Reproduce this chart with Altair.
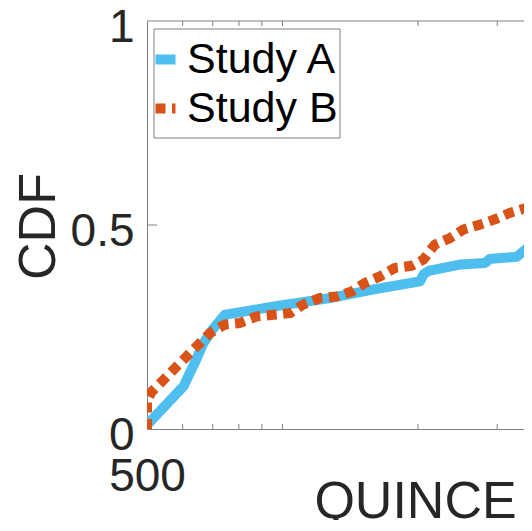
import altair as alt
import pandas as pd

# ---- data ----
series = ["Study A", "Study B"]
colors = ["#4DBEEE", "#D95319"]

a_x = [500, 603, 640, 667, 700, 745, 954, 1275, 1592, 2022, 2060, 2120, 2481, 2818, 2892, 3314, 3580, 3800]
a_y = [0.01, 0.105, 0.165, 0.21, 0.245, 0.28, 0.30, 0.321, 0.342, 0.362, 0.38, 0.388, 0.403, 0.407, 0.417, 0.422, 0.452, 0.48]

b_x = [500, 500, 512, 577, 649, 690, 745, 805, 877, 954, 1040, 1112, 1212, 1320, 1425, 1525, 1647, 1779,
       1937, 2056, 2181, 2357, 2523, 2748, 2966, 3205, 3488, 3800]
b_y = [0.0, 0.07, 0.091, 0.149, 0.206, 0.235, 0.256, 0.26, 0.276, 0.28, 0.284, 0.305, 0.321, 0.325, 0.337,
       0.358, 0.374, 0.395, 0.40, 0.415, 0.452, 0.468, 0.489, 0.501, 0.514, 0.530, 0.542, 0.555]

x_domain = [500, 3441]
x_label_values = [500]
x_minor_ticks = [600, 700, 800, 900, 1000, 2000, 3000]
y_label_values = [0, 0.5, 1]
y_inner_ticks = [0.5]

rows = []
for i, (x, y) in enumerate(zip(a_x, a_y)):
    rows.append({"series": "Study A", "x": x, "y": y, "order": i})
for i, (x, y) in enumerate(zip(b_x, b_y)):
    rows.append({"series": "Study B", "x": x, "y": y, "order": i})
df = pd.DataFrame(rows)

W, H = 377, 408
PAD_L, PAD_T = 139, 13
TOTAL_H = 512
font = "Liberation Sans"
axis_color = "#808080"
text_color = "#262626"

x_scale = alt.Scale(type="log", domain=x_domain, nice=False)
y_scale = alt.Scale(domain=[0, 1], nice=False)

legend = alt.Legend(
    title=None, orient="none", legendX=-3, legendY=17,
    symbolType="stroke", symbolSize=400, symbolStrokeWidth=10,
    labelFontSize=43, labelFont=font, labelColor="black", labelOffset=0, labelLimit=0,
    padding=0, rowPadding=5,
)

x_axis = alt.Axis(
    values=x_label_values, format="d", title="QUINCE", ticks=False, grid=False,
    domainColor=axis_color, domainWidth=1,
    labelFontSize=46, labelFont=font, labelColor=text_color,
    labelBaseline="alphabetic", labelPadding=61, labelFlush=False, labelAlign="center",
    titleFontSize=52, titleFont=font, titleFontWeight="normal", titleColor=text_color,
    titleX=268, titleY=88, titleAlign="center", titleBaseline="alphabetic",
)
y_axis = alt.Axis(
    values=y_label_values, format="~g", title="CDF", ticks=False, grid=False,
    domainColor=axis_color, domainWidth=1,
    labelFontSize=46, labelFont=font, labelColor=text_color,
    labelBaseline="alphabetic", labelPadding=13, labelOffset=20, labelOverlap=False,
    labelFlush=False,
    titleFontSize=52, titleFont=font, titleFontWeight="normal", titleColor=text_color,
    titleAngle=270, titleX=-93, titleY=205, titleAlign="center", titleBaseline="alphabetic",
)

lines = alt.Chart(df).mark_line(
    clip=True, strokeWidth=10, strokeJoin="round", strokeCap="butt"
).encode(
    x=alt.X("x:Q", scale=x_scale, axis=x_axis),
    y=alt.Y("y:Q", scale=y_scale, axis=y_axis),
    color=alt.Color("series:N", scale=alt.Scale(domain=series, range=colors), legend=legend),
    strokeDash=alt.StrokeDash("series:N", scale=alt.Scale(domain=series, range=[[1, 0], [10, 6.5]]),
                              legend=legend),
    order="order:Q",
)

tick_df = pd.DataFrame({"x": x_minor_ticks})
bottom_ticks = alt.Chart(tick_df).mark_rule(color=axis_color, strokeWidth=1).encode(
    x=alt.X("x:Q", scale=x_scale), y=alt.value(H), y2=alt.value(H - 5)
)
top_ticks = alt.Chart(tick_df).mark_rule(color=axis_color, strokeWidth=1).encode(
    x=alt.X("x:Q", scale=x_scale), y=alt.value(0), y2=alt.value(5)
)
ytick_df = pd.DataFrame({"y": y_inner_ticks})
y_ticks = alt.Chart(ytick_df).mark_rule(color=axis_color, strokeWidth=1).encode(
    y=alt.Y("y:Q", scale=y_scale), x=alt.value(0), x2=alt.value(10)
)
frame_df = pd.DataFrame({"v": [0]})
top_border = alt.Chart(frame_df).mark_rule(color=axis_color, strokeWidth=1).encode(
    y=alt.value(0), x=alt.value(0), x2=alt.value(W)
)
legend_box = alt.Chart(frame_df).mark_rect(fill="white", stroke=axis_color, strokeWidth=1).encode(
    x=alt.value(7), x2=alt.value(193), y=alt.value(8), y2=alt.value(117)
)

chart = alt.layer(lines, bottom_ticks, top_ticks, y_ticks, top_border, legend_box).properties(
    width=W, height=H,
    padding={"left": PAD_L, "top": PAD_T, "right": 0, "bottom": TOTAL_H - PAD_T - H},
    autosize=alt.AutoSizeParams(type="none"),
).configure_view(stroke=None)

chart.save("out.html", embed_options={"renderer": "svg", "actions": False})
